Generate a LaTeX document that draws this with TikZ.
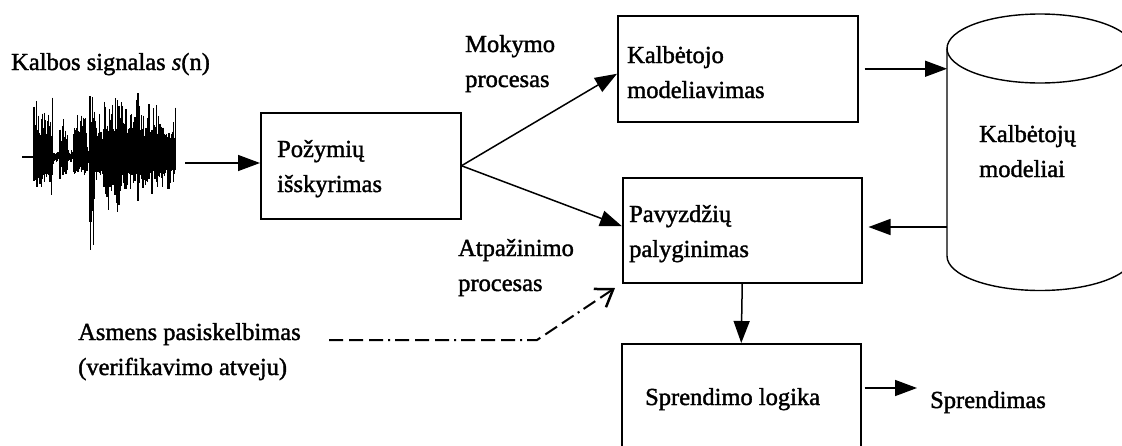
\documentclass[tikz,border=0pt]{standalone}
\usepackage{fontspec}
\setmainfont{Liberation Serif}[FakeBold=1.5]
\usetikzlibrary{arrows.meta,calc}
% two left-aligned lines whose baseline is the first line
\newcommand\lbltwo[2]{\begin{tabular}[t]{@{}l@{}}#1\\#2\end{tabular}}
\begin{document}
\begin{tikzpicture}[x=1pt,y=-1pt,
  box/.style={draw, line width=1.5pt, inner sep=0pt, anchor=north west},
  lbl/.style={anchor=base west, inner sep=0pt, font=\fontsize{24.5pt}{35pt}\selectfont},
  flow/.style={line width=1.5pt, -{Triangle[length=22pt,width=16pt]}},
  claim/.style={line width=2pt, dash pattern=on 14pt off 6pt on 14pt off 6pt on 14pt off 5pt on 2pt off 5pt,
    -{Straight Barb[length=16pt,width=22pt,line width=2.5pt]}},
  wave/.style={line width=1.2pt}]
\useasboundingbox (0,0) rectangle (1122,445);
\fill[white] (0,0) rectangle (1122,445);
\clip (0,0) rectangle (1122,445);

% speech waveform
\pgfmathsetseed{11}
\draw[wave] (22,157) -- (36,157);
\foreach \xa/\xb/\au/\ad in {34/53/68/52, 53/60/9/7, 60/68/44/26, 68/74/9/7, 74/87/62/32,
    87/90/20/15, 90/95/80/100, 95/104/48/42, 104/120/72/68, 120/140/74/48, 140/160/64/44, 160/176/54/40}{
  \pgfmathsetmacro\xn{\xa+0.6}
  \foreach \x in {\xa,\xn,...,\xb}{
    \pgfmathsetmacro\up{\au*(0.3+0.7*rnd*rnd)}
    \pgfmathsetmacro\dn{\ad*(0.3+0.7*rnd*rnd)}
    \draw[wave] (\x,{157-\up}) -- (\x,{157+\dn});
  }
}
\coordinate (sigout) at (185,163);

% labels
\node[lbl] (sig) at (11,70) {Kalbos signalas \textit{s}(n)};
\node[lbl] (mok) at (465,52) {\lbltwo{Mokymo}{procesas}};
\node[lbl] (atp) at (458,256) {\lbltwo{Atpažinimo}{procesas}};
\node[lbl] (asm) at (78,340) {\lbltwo{Asmens pasiskelbimas}{(verifikavimo atveju)}};
\node[lbl] (spr) at (930,408) {Sprendimas};

% processing blocks
\node[box, minimum width=200pt, minimum height=106pt] (pzbox) at (260,112) {};
\node[lbl] (pztxt) at (277,157) {\lbltwo{Požymių}{išskyrimas}};
\node[box, minimum width=240pt, minimum height=106pt] (kbox) at (617,15) {};
\node[lbl] (ktxt) at (627,63) {\lbltwo{Kalbėtojo}{modeliavimas}};
\node[box, minimum width=239pt, minimum height=105pt] (pbox) at (622,177) {};
\node[lbl] (ptxt) at (629,222) {\lbltwo{Pavyzdžių}{palyginimas}};
\node[box, minimum width=239pt, minimum height=130pt] (sbox) at (621,343) {};
\node[lbl] (stxt) at (645,405) {Sprendimo logika};

% speaker model database
\node[inner sep=0pt, minimum width=186pt, minimum height=277pt, anchor=north west] (db) at (947,14) {};
\draw[line width=1.4pt] (1040,48.5) ellipse [x radius=93pt, y radius=34.5pt];
\draw[line width=1.4pt] (947,48.5) -- (947,256)
  arc[start angle=180, end angle=360, x radius=93pt, y radius=34.5pt] -- (1133,48.5);
\node[lbl] (dbtxt) at (979,142) {\lbltwo{Kalbėtojų}{modeliai}};

% connectors
\draw[flow] (sigout) -- (sigout -| pzbox.west);
\draw[flow] (pzbox.east) -- ($(kbox.west)+(0,5)$);
\draw[flow] (pzbox.east) -- ($(pbox.west)+(0,-4)$);
\draw[flow, shorten <=6pt] (kbox.east) -- (kbox.east -| db.west);
\coordinate (dbout) at (947,227);
\draw[flow, shorten >=6pt] (dbout) -- (dbout -| pbox.east);
\draw[flow] (pbox.south) -- (sbox.north);
\coordinate (dec) at (917,388);
\draw[flow, shorten <=3pt] (dec -| sbox.east) -- (dec);

% identity claim (verification only)
\coordinate (claimstart) at (329,340);
\coordinate (claimbend) at (537,340);
\coordinate (claimtip) at (615,288);
\draw[claim] (claimstart) -- (claimbend) -- (claimtip);
\end{tikzpicture}
\end{document}
